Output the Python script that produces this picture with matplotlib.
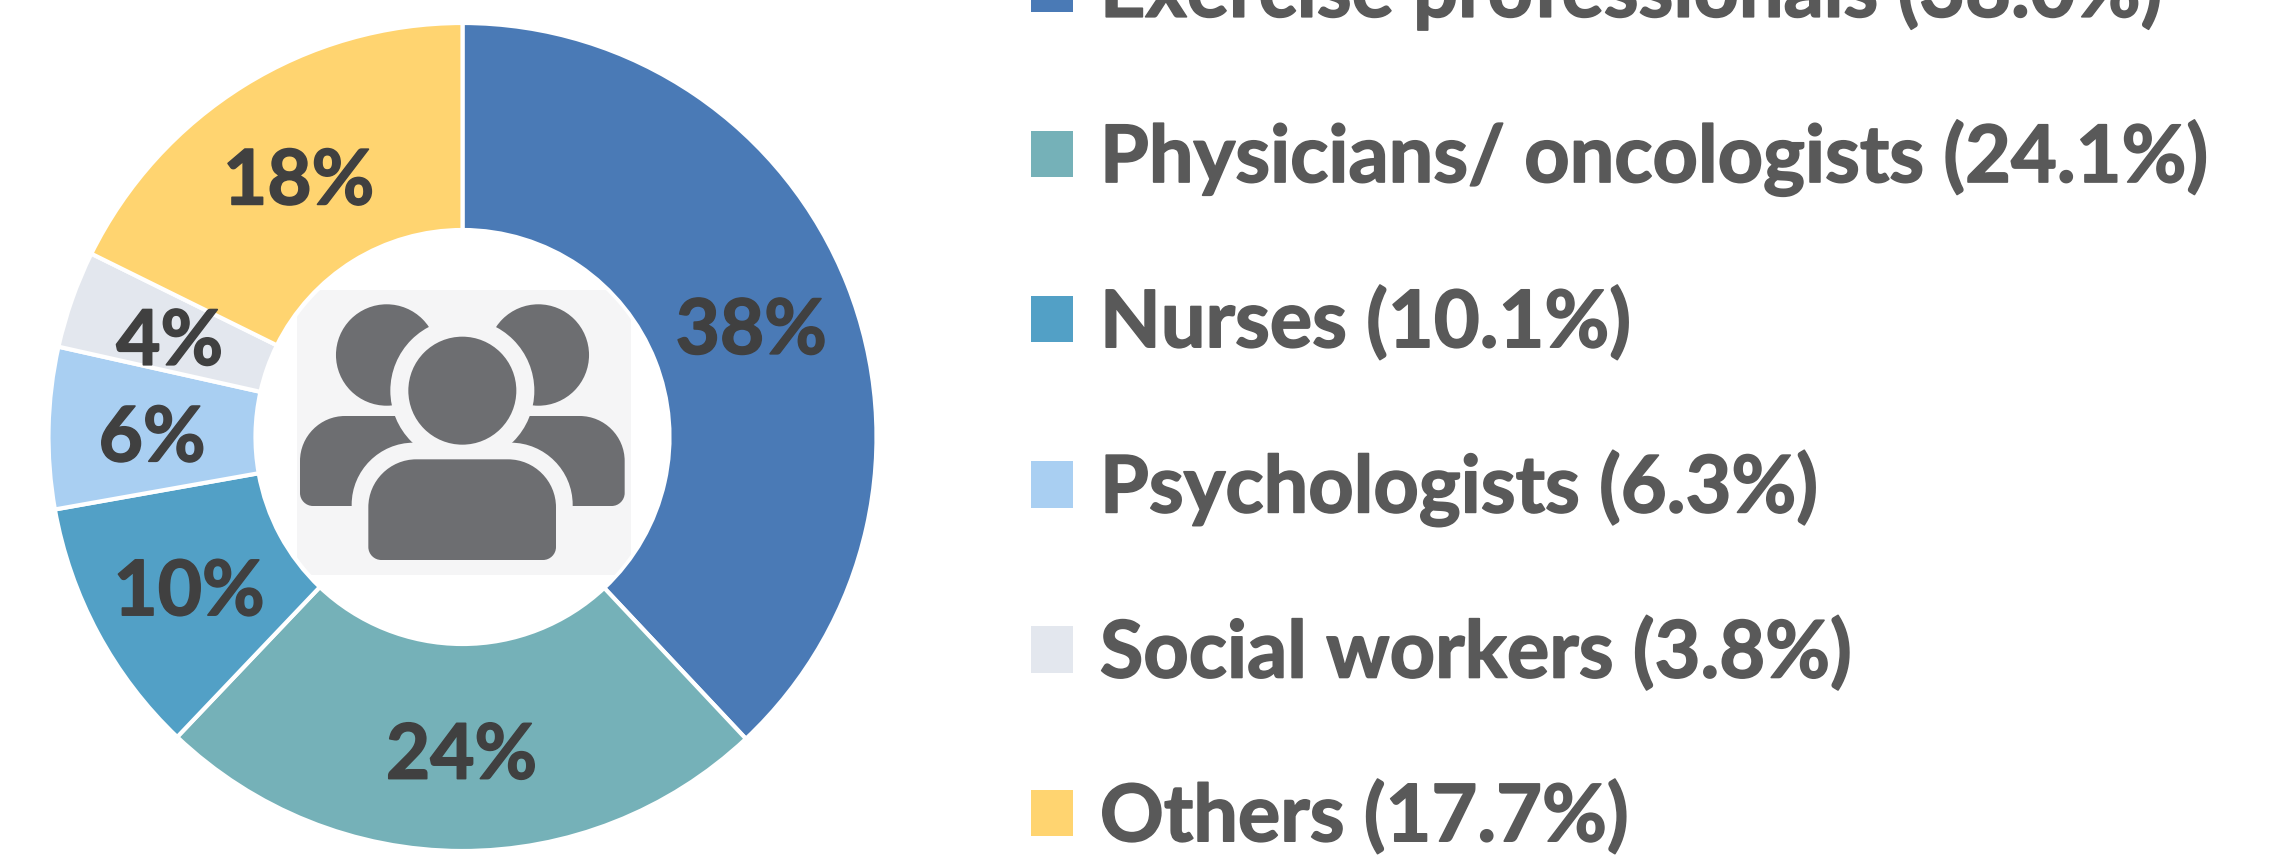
from matplotlib import pyplot as plt
from matplotlib import patheffects
from matplotlib.patches import Circle, PathPatch, Rectangle
from matplotlib.path import Path

labels = ['Exercise professionals (38.0%)', 'Physicians/ oncologists (24.1%)', 'Nurses (10.1%)',
          'Psychologists (6.3%)', 'Social workers (3.8%)', 'Others (17.7%)']
values = [38.0, 24.1, 10.1, 6.3, 3.8, 17.7]
colors = ['#4A7AB6', '#75B1B8', '#52A0C6', '#A9CFF2', '#E3E7EE', '#FFD470']

W, H = 2271, 855
plt.rcParams['font.family'] = ['Lato', 'DejaVu Sans']
plt.rcParams['font.weight'] = 'bold'

fig = plt.figure(figsize=(W / 100, H / 100), dpi=100)

# donut
cx, cy, r = 462.5, 437, 414 * 1.02
ax = fig.add_axes([(cx - r) / W, 1 - (cy + r) / H, 2 * r / W, 2 * r / H])
wedges, _, pcts = ax.pie(values, colors=colors, startangle=90, counterclock=False, radius=1,
                         autopct=lambda p: '%.0f%%' % p, pctdistance=0.75,
                         wedgeprops={'width': 0.5, 'edgecolor': 'white', 'linewidth': 3})
for t in pcts:
    x, y = t.get_position()
    t.set_position((x, y - 0.022))
    t.set_fontsize(55)
    t.set_color('#404040')
    t.set_path_effects([patheffects.withStroke(linewidth=1.2, foreground='#404040')])
ax.set_xlim(-1.02, 1.02)
ax.set_ylim(-1.02, 1.02)

leg = fig.legend(wedges, labels, loc='upper left', bbox_to_anchor=(1031 / W, 1 + 45 / H), frameon=False,
                 fontsize=57, labelcolor='#595959', handlelength=0.53, handleheight=0.53,
                 handletextpad=0.34, labelspacing=1.13, borderpad=0, borderaxespad=0)
for t in leg.get_texts():
    t.set_path_effects([patheffects.withStroke(linewidth=1.2, foreground='#595959')])
for h in leg.legend_handles:
    h.set_edgecolor('none')

ov = fig.add_axes([0, 0, 1, 1])
ov.set_xlim(0, W)
ov.set_ylim(H, 0)
ov.axis('off')
ov.patch.set_alpha(0)

BG = '#F5F5F6'
GREY = '#6D6E71'


def px(z):
    return 260 + z / 3


def body(x0, x1, y0, y1, rt, rb, color):
    k = 0.55
    verts = [(x0 + rt, y0), (x1 - rt, y0),
             (x1 - rt + k * rt, y0), (x1, y0 + rt - k * rt), (x1, y0 + rt),
             (x1, y1 - rb),
             (x1, y1 - rb + k * rb), (x1 - rb + k * rb, y1), (x1 - rb, y1),
             (x0 + rb, y1),
             (x0 + rb - k * rb, y1), (x0, y1 - rb + k * rb), (x0, y1 - rb),
             (x0, y0 + rt),
             (x0, y0 + rt - k * rt), (x0 + rt - k * rt, y0), (x0 + rt, y0)]
    codes = [Path.MOVETO, Path.LINETO, Path.CURVE4, Path.CURVE4, Path.CURVE4, Path.LINETO,
             Path.CURVE4, Path.CURVE4, Path.CURVE4, Path.LINETO,
             Path.CURVE4, Path.CURVE4, Path.CURVE4, Path.LINETO,
             Path.CURVE4, Path.CURVE4, Path.CURVE4]
    ov.add_patch(PathPatch(Path(verts, codes), facecolor=color, edgecolor='none'))


# icon background is cut by a circle just inside the donut hole
bg = Rectangle((px(110), px(90)), 334, 285, facecolor=BG, edgecolor='none')
ov.add_patch(bg)
bg.set_clip_path(Circle((463, 437), 205, transform=ov.transData))

ov.add_patch(Circle((px(380), px(285)), 50.7, facecolor=GREY, edgecolor='none'))
ov.add_patch(Circle((px(835), px(285)), 50.7, facecolor=GREY, edgecolor='none'))
body(px(120), px(600), px(468), px(738), 45, 13, GREY)
body(px(610), px(1094), px(468), px(738), 45, 13, GREY)
ov.add_patch(Circle((px(607), px(392)), 72, facecolor=BG, edgecolor='none'))
body(px(275), px(938), px(548), px(945), 62, 1, BG)
ov.add_patch(Circle((px(607), px(392)), 54, facecolor=GREY, edgecolor='none'))
body(px(325), px(888), px(598), px(900), 48, 13, GREY)

fig.savefig('out.png', dpi=100)
